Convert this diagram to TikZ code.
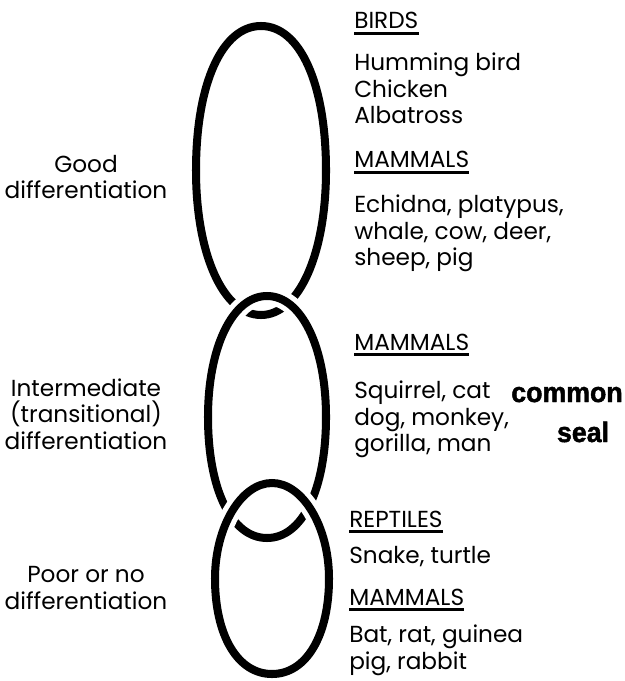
\documentclass[tikz,border=0pt]{standalone}
\usepackage{fontspec}
\setmainfont{Poppins}
\newfontfamily\sealfont{Liberation Sans}[FakeStretch=0.95, BoldFeatures={FakeBold=1.6}]
\tikzset{
  ring/.style={draw=black, line width=5.7pt, preaction={draw=white, line width=13pt}},
  lab/.style={font=\fontsize{16.5pt}{18.8pt}\selectfont, align=center, inner sep=0pt},
  head/.style={font=\fontsize{16.5pt}{18.8pt}\selectfont, anchor=base west, inner sep=0pt},
  list/.style={font=\fontsize{16.5pt}{18.8pt}\selectfont, align=left, anchor=north west, inner sep=0pt},
  uline/.style={line width=2.1pt},
  seal/.style={font=\sealfont\bfseries\fontsize{20pt}{24pt}\selectfont, inner sep=0pt, anchor=base},
}
\begin{document}
\begin{tikzpicture}[x=0.025cm, y=-0.025cm]
    \useasboundingbox (0,0) rectangle (624,681);
    % ring: centre x, centre y, half width, half height, top bulge, bottom bulge
    \newcommand{\ring}[6]{%
      \draw[ring] (#1+#3,#2) .. controls (#1+#3,#2-#5*#4) and (#1+#5*#3,#2-#4) .. (#1,#2-#4)
        .. controls (#1-#5*#3,#2-#4) and (#1-#3,#2-#5*#4) .. (#1-#3,#2)
        .. controls (#1-#3,#2+#6*#4) and (#1-#6*#3,#2+#4) .. (#1,#2+#4)
        .. controls (#1+#6*#3,#2+#4) and (#1+#3,#2+#6*#4) .. cycle;}
    % the three linked rings, each one drawn over the one above it
    \ring{261}{170.5}{65}{144.5}{0.6}{0.58}
    \ring{267}{417}{59}{121}{0.58}{0.6}
    \ring{272}{578.5}{57}{95.5}{0.54}{0.6}
    % left side
    \node[lab] (good) at (86,177) {Good\\differentiation};
    \node[lab] (inter) at (86,414) {Intermediate\\(transitional)\\differentiation};
    \node[lab] (poor) at (86,588) {Poor or no\\differentiation};
    % right side
    \node[head] (h1) at (354,29) {BIRDS};
    \node[list] (l1) at (354,53) {Humming bird\\Chicken\\Albatross};
    \node[head] (h2) at (354,168) {MAMMALS};
    \node[list] (l2) at (354,195) {Echidna, platypus,\\whale, cow, deer,\\sheep, pig};
    \node[head] (h3) at (354,350) {MAMMALS};
    \node[list] (l3) at (354,381) {Squirrel, cat\\dog, monkey,\\gorilla, man};
    \node[seal] (s1) at (567,402) {common};
    \node[seal] (s2) at (583,442) {seal};
    \node[head] (h4) at (349,527) {REPTILES};
    \node[list] (l4) at (349,546) {Snake, turtle};
    \node[head] (h5) at (349,605) {MAMMALS};
    \node[list] (l5) at (349,625) {Bat, rat, guinea\\pig, rabbit};
    \foreach \h in {h1,h2,h3,h4,h5}
      \draw[uline] ([yshift=-3.5pt]\h.base west) -- ([yshift=-3.5pt]\h.base east);
\end{tikzpicture}
\end{document}
